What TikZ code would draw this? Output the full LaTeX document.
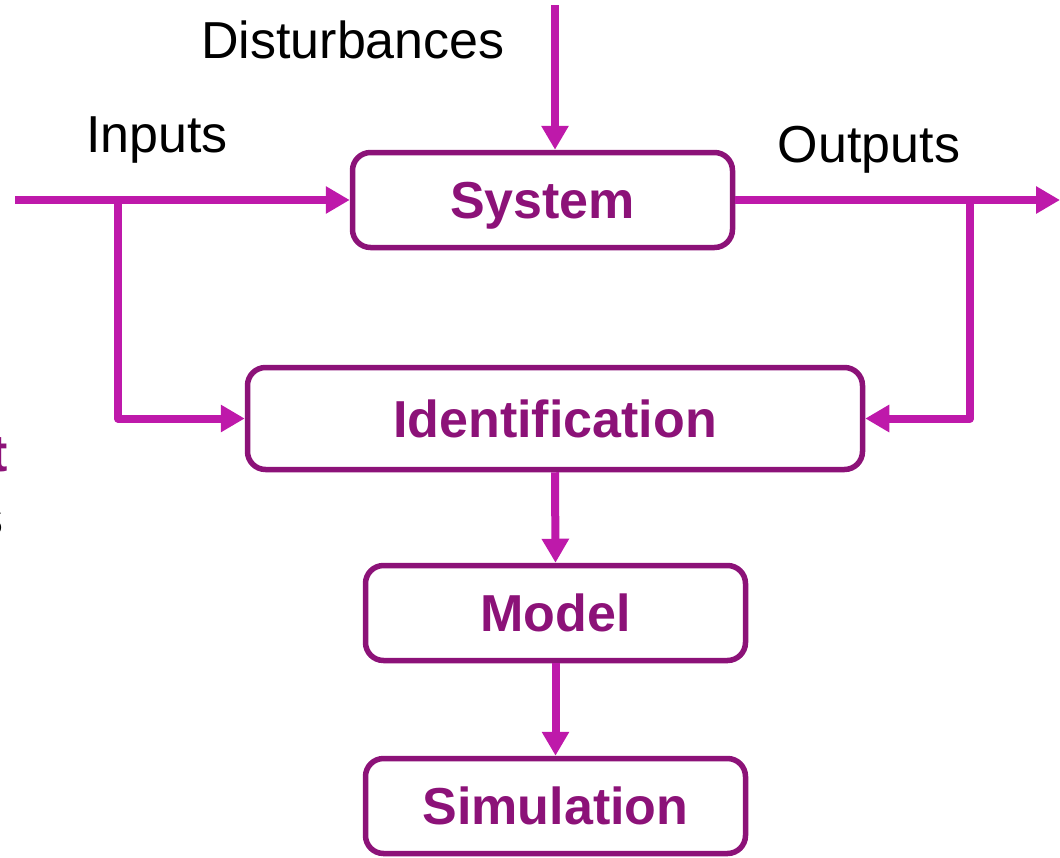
\documentclass[tikz,border=0pt]{standalone}
\usepackage{fontspec}
\setmainfont{Liberation Sans}
\usetikzlibrary{arrows.meta}
\definecolor{boxpurple}{RGB}{140,18,120}
\definecolor{flowpink}{RGB}{190,25,170}
\begin{document}
\begin{tikzpicture}[x=1pt,y=-1pt,
  block/.style={draw=boxpurple, line width=5.5pt, rounded corners=18pt,
    text=boxpurple, font=\fontsize{52}{58}\selectfont\bfseries,
    text height=37.5pt, text depth=0pt,
    inner sep=0pt, anchor=center},
  flow/.style={draw=flowpink, line width=8pt, line join=round,
    -{Triangle[length=24pt,width=26pt]}},
  tag/.style={font=\fontsize{52}{58}\selectfont, inner sep=0pt}]
\useasboundingbox (0,0) rectangle (1060,857);

% blocks
\node[block, minimum width=380pt, minimum height=95pt] (sys) at (542.5,200) {System};
\node[block, minimum width=615pt, minimum height=102pt] (ident) at (555,418.5) {Identification};
\node[block, minimum width=380pt, minimum height=95pt] (model) at (555.5,613) {Model};
\node[block, minimum width=380pt, minimum height=95pt] (sim) at (555.5,806) {Simulation};

% labels
\node[tag] (dist) at (353,40) {Disturbances};
\node[tag] (inp) at (157,140) {Inputs};
\node[tag] (outp) at (869,150) {Outputs};

% partially visible text at the left border
\node[font=\fontsize{52}{58}\selectfont\bfseries, text=boxpurple, inner sep=0pt, anchor=base east] (tpart) at (8,471) {t};
\node[tag, anchor=base east] (spart) at (3.5,535) {s};

% connector points
\coordinate (inStart) at (15,200);
\coordinate (inSplit) at (118,200);
\coordinate (outSplit) at (970,200);
\coordinate (outEnd) at (1060,200);
\coordinate (distTop) at (555,5);

% connectors
\draw[flow] (inStart) -- (sys.west);
\draw[flow] (inSplit) |- (ident.west);
\draw[flow] (sys.east) -- (outEnd);
\draw[flow] (outSplit) |- (ident.east);
\draw[flow] (distTop) -- (sys.north -| distTop);
\draw[flow] (ident.south) -- (model.north);
\draw[flow] (model.south) -- (sim.north);
\end{tikzpicture}
\end{document}
